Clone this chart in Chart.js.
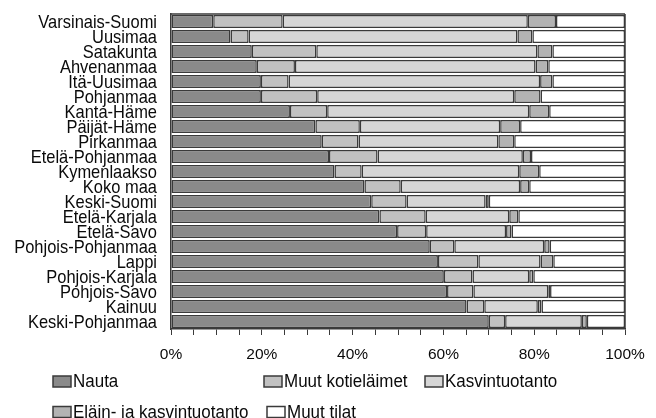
<!DOCTYPE html>
<html>
<head>
<meta charset="utf-8">
<script src="https://cdn.jsdelivr.net/npm/chart.js@4"></script>
<style>
  html, body { margin: 0; padding: 0; background: #fff; }
  #wrap { width: 656px; height: 418px; }
</style>
</head>
<body>
<div id="wrap"><canvas id="chart" width="656" height="418"></canvas></div>
<script>
// maakunnat (ylhäältä alas)
const regions = ['Varsinais-Suomi', 'Uusimaa', 'Satakunta', 'Ahvenanmaa', 'Itä-Uusimaa',
  'Pohjanmaa', 'Kanta-Häme', 'Päijät-Häme', 'Pirkanmaa', 'Etelä-Pohjanmaa', 'Kymenlaakso',
  'Koko maa', 'Keski-Suomi', 'Etelä-Karjala', 'Etelä-Savo', 'Pohjois-Pohjanmaa', 'Lappi',
  'Pohjois-Karjala', 'Pohjois-Savo', 'Kainuu', 'Keski-Pohjanmaa'];

const seriesNames = ['Nauta', 'Muut kotieläimet', 'Kasvintuotanto', 'Eläin- ja kasvintuotanto', 'Muut tilat'];

// osuudet %, luettu kuvasta
const nauta =        [9.3, 13.1, 17.8, 18.9, 19.8, 19.8, 26.2, 31.8, 33.2, 34.8, 36.0, 42.6, 44.1, 45.9, 49.8, 57.0, 58.8, 60.1, 60.8, 65.1, 70.0];
const muutKotiel =   [15.3, 4.0, 14.2, 8.4, 6.1, 12.4, 8.2, 9.8, 8.1, 10.7, 6.0, 8.0, 7.8, 10.2, 6.4, 5.4, 8.9, 6.3, 5.8, 3.9, 3.6];
const kasvin =       [54.0, 59.2, 48.7, 53.0, 55.4, 43.4, 44.5, 30.9, 30.8, 32.0, 34.7, 26.3, 17.4, 18.4, 17.6, 19.8, 13.7, 12.5, 16.5, 11.8, 16.9];
const elainKasvi =   [6.2, 3.3, 3.3, 2.8, 2.7, 5.8, 4.4, 4.4, 3.5, 1.8, 4.4, 2.0, 0.7, 2.0, 1.2, 1.2, 2.8, 0.9, 0.4, 0.8, 1.1];
const muutTilat =    [15.2, 20.4, 16.0, 16.9, 16.0, 18.6, 16.7, 23.1, 24.4, 20.7, 18.9, 21.1, 30.0, 23.5, 25.0, 16.6, 15.8, 20.2, 16.5, 18.4, 8.4];

const xTicks = [0, 20, 40, 60, 80, 100];

const fills = ['#8a8a8a', '#c1c1c1', '#d6d6d6', '#b3b3b3', '#ffffff'];
const edge = '#3a3a3a';
const font = '"Liberation Sans", Arial, sans-serif';

const values = [nauta, muutKotiel, kasvin, elainKasvi, muutTilat];

function squeezedText(ctx, text, x, y, align, sx) {
  ctx.save();
  ctx.translate(x, y);
  ctx.scale(sx, 1);
  ctx.textAlign = align;
  ctx.fillText(text, 0, 0);
  ctx.restore();
}

const textPlugin = {
  id: 'narrowText',
  afterDraw(chart) {
    const ctx = chart.ctx;
    const a = chart.chartArea;
    ctx.save();
    // kehyksen oikea ja ylä reuna
    ctx.strokeStyle = edge;
    ctx.lineWidth = 1.5;
    ctx.beginPath();
    ctx.moveTo(a.right, a.top);
    ctx.lineTo(a.right, a.bottom);
    ctx.moveTo(a.left, a.top);
    ctx.lineTo(a.right, a.top);
    ctx.stroke();

    // maakuntien nimet (kapea kirjasin)
    const ys = chart.scales.y;
    ctx.fillStyle = '#0a0a0a';
    ctx.textBaseline = 'middle';
    ctx.font = '18.5px ' + font;
    regions.forEach((r, i) => {
      squeezedText(ctx, r, a.left - 14, ys.getPixelForValue(i) + 1, 'right', 0.89);
    });

    // selite
    const pos = [[53, 381.5], [264, 381.5], [425, 381.5], [53, 412], [267, 412]];
    ctx.font = '17.5px ' + font;
    seriesNames.forEach((name, i) => {
      const [x, y] = pos[i];
      ctx.fillStyle = fills[i];
      ctx.fillRect(x, y - 5.5, 18, 11);
      ctx.strokeStyle = edge;
      ctx.lineWidth = 1.5;
      ctx.strokeRect(x, y - 5.5, 18, 11);
      ctx.fillStyle = '#0a0a0a';
      squeezedText(ctx, name, x + 20, y + 1, 'left', 0.97);
    });
    ctx.restore();
  }
};

new Chart(document.getElementById('chart'), {
  type: 'bar',
  data: {
    labels: regions,
    datasets: seriesNames.map((name, i) => ({
      label: name,
      data: values[i],
      backgroundColor: fills[i],
      borderColor: edge,
      borderWidth: 1.5,
      borderSkipped: false,
      barPercentage: 0.88,
      categoryPercentage: 1
    }))
  },
  options: {
    indexAxis: 'y',
    responsive: false,
    animation: false,
    layout: { padding: { top: 14, right: 31, left: 0, bottom: 0 } },
    plugins: { legend: { display: false }, tooltip: { enabled: false } },
    scales: {
      x: {
        stacked: true,
        min: 0,
        max: 100,
        afterFit(s) { s.height = 89; },
        afterBuildTicks(s) {
          const t = [];
          for (let v = 0; v <= 100; v += 5) t.push({ value: v });
          s.ticks = t;
        },
        grid: { drawOnChartArea: false, tickLength: 6, color: edge, lineWidth: 1 },
        border: { display: true, color: edge, width: 1.5 },
        ticks: {
          autoSkip: false,
          maxRotation: 0,
          padding: 10,
          color: '#0a0a0a',
          font: { family: font, size: 15.5 },
          callback: v => xTicks.includes(v) ? v + '%' : ''
        }
      },
      y: {
        stacked: true,
        afterFit(s) { s.width = 171; },
        grid: { display: true, drawOnChartArea: false, drawTicks: false },
        border: { display: true, color: edge, width: 1.5 },
        ticks: { display: false }
      }
    }
  },
  plugins: [textPlugin]
});
</script>
</body>
</html>
